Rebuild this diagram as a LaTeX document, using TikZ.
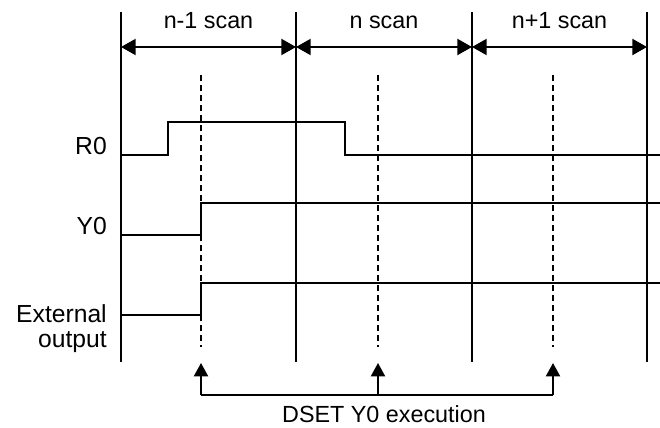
\documentclass[tikz,border=0pt]{standalone}
\usepackage{fontspec}
\setmainfont{Liberation Sans}
\usetikzlibrary{arrows.meta}

\begin{document}
\begin{tikzpicture}[
  x=0.75pt, y=-0.75pt,
  font=\fontsize{17.5}{21}\selectfont,
  wire/.style={line width=1.5pt},
  tickline/.style={wire, dash pattern=on 4.5pt off 3pt},
  span/.style={wire, {Triangle[length=11pt,width=12pt]}-{Triangle[length=11pt,width=12pt]}},
  uparr/.style={wire, -{Triangle[length=10pt,width=10.5pt]}},
  sig/.style={font=\fontsize{18.5}{18.75}\selectfont, align=right, inner sep=0pt}
]
\useasboundingbox (0,0) rectangle (660,428);

% scan boundaries
\foreach \x/\n in {121/0,296/1,472/2,647/3}
  \draw[wire] (\x,12) coordinate (top\n) -- (\x,362) coordinate (bot\n);

\coordinate (s0) at (121,47);
\coordinate (s1) at (296,47);
\coordinate (s2) at (472,47);
\coordinate (s3) at (647,47);
\draw[span] (s0) -- (s1);
\draw[span] (s1) -- (s2);
\draw[span] (s2) -- (s3);
\node[anchor=base] (scanA) at (208.5,29) {n-1 scan};
\node[anchor=base] (scanB) at (384,29) {n scan};
\node[anchor=base] (scanC) at (559.5,29) {n+1 scan};

% DSET execution points
\foreach \x/\n in {201/a,378/b,553/c} {
  \draw[tickline] (\x,75) -- (\x,347);
  \coordinate (tip\n) at (\x,363);
  \coordinate (foot\n) at (\x,395);
}

% signals
\node[sig, anchor=base east] (r0) at (107,154) {R0};
\node[sig, anchor=base east] (y0) at (107,234) {Y0};
\node[sig, anchor=east] (ext) at (107,329) {External\\output};

\draw[wire] (121,155) -- (168,155) -- (168,122) -- (345,122) -- (345,155) -- (660,155);
\draw[wire] (121,235) -- (201,235) -- (201,203) -- (660,203);
\draw[wire] (121,315) -- (201,315) -- (201,283) -- (660,283);

\draw[wire] (foota) -- (footc);
\draw[uparr] (foota) -- (tipa);
\draw[uparr] (footb) -- (tipb);
\draw[uparr] (footc) -- (tipc);
\node[anchor=base] (dset) at (384,422) {DSET Y0 execution};
\end{tikzpicture}
\end{document}
